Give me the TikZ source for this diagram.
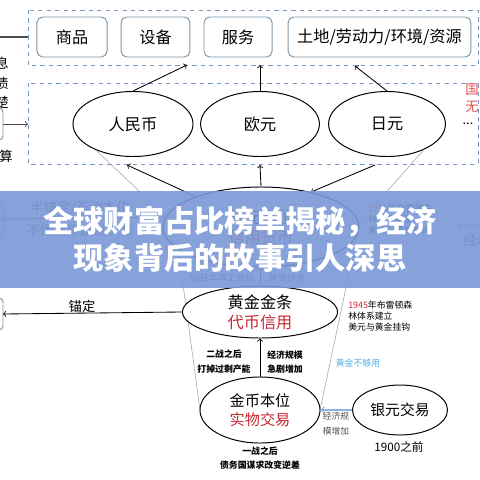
\documentclass[tikz,border=0pt]{standalone}
\usepackage{fontspec}
\setmainfont{Noto Sans CJK SC}
\usepackage{xcolor}
\usepackage{tikz}
\usetikzlibrary{shapes.geometric}

\definecolor{framecol}{RGB}{118,152,188}
\definecolor{boxcol}{RGB}{128,150,170}
\definecolor{textred}{RGB}{200,40,50}
\definecolor{notered}{RGB}{225,80,80}
\definecolor{lightblue}{RGB}{80,175,230}
\definecolor{arrowblue}{RGB}{140,178,225}
\definecolor{bannerblue}{RGB}{122,152,214}
\definecolor{labelgray}{RGB}{80,80,80}

\begin{document}
\begin{tikzpicture}[x=0.025cm,y=-0.025cm,
  dashframe/.style={draw=framecol,dashed,line width=0.6pt},
  itembox/.style={draw=boxcol,rounded corners=4pt,line width=0.7pt,minimum height=1cm,font=\fontsize{11.5}{13}\selectfont},
  oval/.style={draw,fill=white,ellipse,line width=0.7pt,inner sep=0pt,align=center},
  note/.style={align=center,inner sep=0pt,font=\fontsize{6.3}{10.5}\selectfont\bfseries},
  side/.style={inner sep=0pt,anchor=west,font=\fontsize{6.3}{8}\selectfont},
  arr/.style={->,line width=0.6pt},
  funnel/.style={gray!70,line width=0.4pt}]

\useasboundingbox (0,0) rectangle (480,480);
\clip (0,0) rectangle (480,480);

\draw[dashframe] (28,10) rectangle (478,65);
\node[itembox,minimum width=1.75cm] (goods) at (72,37) {商品};
\node[itembox,minimum width=1.72cm] (device) at (155.5,37) {设备};
\node[itembox,minimum width=1.7cm] (service) at (238,37) {服务};
\node[itembox,minimum width=4.57cm] (land) at (379.5,37) {土地/劳动力/环境/资源};
\coordinate (lin) at (0,37);
\coordinate (fin) at (28,37);
\draw[line width=0.8pt,gray!60!black] (lin) -- (fin);

\draw[dashframe] (28,83) rectangle (478,164);
\draw[funnel] (140,480) -- (140,480);
\node[oval,minimum width=3cm,minimum height=1.625cm,font=\fontsize{11.5}{13}\selectfont] (rmb) at (133,124) {人民币};
\node[oval,minimum width=2.97cm,minimum height=1.625cm,font=\fontsize{11.5}{13}\selectfont] (eur) at (260,124) {欧元};
\node[oval,minimum width=2.92cm,minimum height=1.625cm,font=\fontsize{11.5}{13}\selectfont] (jpy) at (387,124) {日元};
\node[font=\fontsize{9}{10}\selectfont] (more) at (468,124) {...};

\coordinate (t1) at (187,65);
\coordinate (t2) at (260,65);
\coordinate (t3) at (355,66);
\draw[arr] (rmb.north) -- (t1);
\draw[arr] (eur.north) -- (t2);
\draw[arr] (jpy.north) -- (t3);

\node[inner sep=0pt,anchor=east,align=right,font=\fontsize{9.5}{14}\selectfont] (paytext) at (9,83) {息\\债\\楚};
\draw[boxcol,line width=0.7pt,rounded corners=3pt] (-20,108) rectangle (3,140);
\coordinate (lb1) at (3,124);
\coordinate (f2) at (28,124);
\draw[arr,gray!60!black] (lb1) -- (f2);
\node[inner sep=0pt,anchor=east,font=\fontsize{9.5}{11}\selectfont] (settle) at (13,156) {结算};
\node[inner sep=0pt,anchor=west,align=left,text=notered,font=\fontsize{9.5}{12}\selectfont] (nation) at (465,98) {国\\无};

\draw[funnel] (rmb.215) -- (175,225) -- (200,410);
\draw[funnel] (jpy.-35) -- (360,222) -- (320,410);

\node[oval,minimum width=4.9cm,minimum height=2cm,font=\fontsize{11.5}{14}\selectfont] (bigov) at (261,227) {美元本位\\\textcolor{textred}{信用货币}};
\coordinate (m1) at (127,165);
\coordinate (m2) at (260,165);
\coordinate (m3) at (375,165);
\draw[arr] (bigov.155) -- (m1);
\draw[arr] (bigov.north) -- (m2);
\draw[arr] (m3) -- (bigov.35);

\draw[boxcol,line width=0.7pt,rounded corners=3pt] (-20,200) rectangle (3,236);
\coordinate (lb2) at (3,219);
\draw[arr,gray!60!black] (bigov.174) -- (lb2);
\node[text=labelgray,font=\fontsize{9.5}{11}\selectfont] (oiltext) at (80,208) {半锚定/石油本位};
\node[text=labelgray,font=\fontsize{9.5}{11}\selectfont] (debttext) at (80,230) {不惜货币超发扩张};
\node[side] (bw1) at (368,208) {\textcolor{textred}{1971}年布雷顿森};
\node[side] (bw2) at (368,219) {林体系崩溃};
\node[side] (bw3) at (368,230) {美元与黄金脱钩};
\coordinate (r1) at (478,225);
\coordinate (r2) at (458,225);
\draw[->,dashed,gray] (r1) -- (r2);
\node[side,text=violet!60!gray,font=\fontsize{9.5}{11}\selectfont] (econ) at (463,240) {经济};

\node[oval,minimum width=3.875cm,minimum height=1.3cm,font=\fontsize{11.5}{14}\selectfont] (gold) at (260,312) {黄金金条\\\textcolor{textred}{代币信用}};
\draw[arr] (gold.north) -- (bigov.south);
\node[text=labelgray,font=\fontsize{6.5}{8}\selectfont] (japan) at (222,278) {50日本再工业化};
\node[text=labelgray,font=\fontsize{6.5}{8}\selectfont] (rush) at (287,278) {黄金挤兑};

\draw[boxcol,line width=0.7pt,rounded corners=3pt] (-20,298) rectangle (3,330);
\coordinate (lb3) at (3,314);
\draw[arr] (gold.west) -- (lb3);
\node[font=\fontsize{9.5}{11}\selectfont] (anchor) at (82,306) {锚定};
\node[side] (bw4) at (348,305) {\textcolor{textred}{1945}年布雷顿森};
\node[side] (bw5) at (348,316) {林体系建立};
\node[side] (bw6) at (348,327) {美元与黄金挂钩};
\node[text=lightblue,font=\fontsize{6.3}{8}\selectfont] (short) at (358,363) {黄金不够用};

\node[oval,minimum width=3cm,minimum height=1.65cm,font=\fontsize{10.8}{13.5}\selectfont] (coin) at (260,410) {金币本位\\\textcolor{textred}{实物交易}};
\draw[arr] (coin.north) -- (gold.south);
\node[note] (ww2) at (224,362) {二战之后\\打掉过剩产能};
\node[note] (grow) at (285,362) {经济规模\\急剧增加};
\node[note] (ww1) at (260,458) {一战之后\\债务国谋求改变逆差};

\node[oval,minimum width=2.375cm,minimum height=1.25cm,font=\fontsize{10.5}{12}\selectfont] (silver) at (400,410) {银元交易};
\node[font=\fontsize{8.3}{10}\selectfont] (before) at (399,447) {1900之前};
\draw[->,arrowblue,line width=1pt] (silver.west) -- (coin.east);
\node[text=labelgray,align=center,inner sep=0pt,font=\fontsize{6.2}{10.5}\selectfont] (scale) at (336,424) {经济规\\模增加};

\fill[bannerblue,opacity=0.9] (0,191) rectangle (480,288);
\node[text=white,font=\fontsize{21.5}{24}\selectfont\bfseries] (title1) at (240,222) {全球财富占比榜单揭秘，经济};
\node[text=white,font=\fontsize{21.5}{24}\selectfont\bfseries] (title2) at (240,258) {现象背后的故事引人深思};
\end{tikzpicture}
\end{document}
